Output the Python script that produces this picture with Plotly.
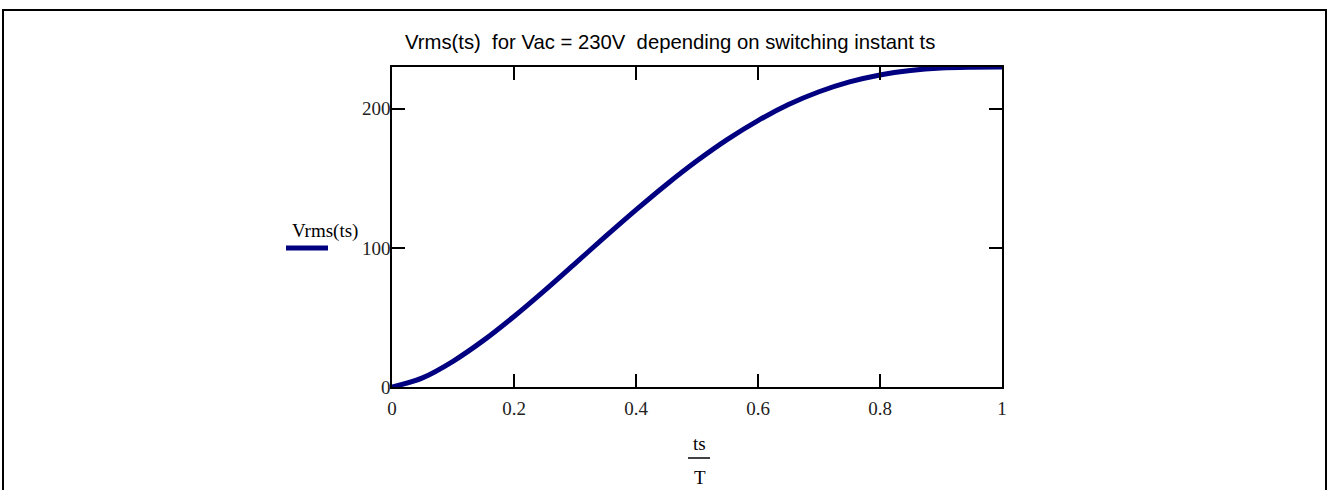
import plotly.graph_objects as go

# ts/T values and Vrms
ts_over_T = [0.0, 0.05, 0.10, 0.15, 0.20, 0.25, 0.30, 0.35, 0.40, 0.45, 0.50,
             0.55, 0.60, 0.65, 0.70, 0.75, 0.80, 0.85, 0.90, 0.95, 1.0]
vrms = [0.0, 6.6, 18.5, 33.5, 50.7, 69.3, 88.7, 108.2, 127.3, 145.6, 162.6,
        178.0, 191.5, 203.0, 212.2, 219.3, 224.3, 227.5, 229.3, 229.9, 230.0]

x_ticks = [0, 0.2, 0.4, 0.6, 0.8, 1]
x_tick_labels = ["0", "0.2", "0.4", "0.6", "0.8", "1"]
y_ticks = [0, 100, 200]
y_tick_labels = ["0", "100", "200"]

title_text = "Vrms(ts)  for Vac = 230V  depending on switching instant ts"
legend_text = "Vrms(ts)"

W, H = 1328, 490
L, R, T, B = 392, 1002, 67, 387

def px(x):
    return (x - L) / (R - L)

def py(y):
    return (B - y) / (B - T)

line_color = "#000080"
serif = "Liberation Serif, Times New Roman, serif"

fig = go.Figure()
fig.add_trace(go.Scatter(x=ts_over_T, y=vrms, mode="lines",
                         line=dict(color=line_color, width=5, shape="spline"),
                         showlegend=False, cliponaxis=True))

axis_common = dict(showline=True, linecolor="black", linewidth=1.5, mirror="ticks",
                   ticks="inside", ticklen=13, tickwidth=1.5, tickcolor="black",
                   showgrid=False, zeroline=False,
                   tickfont=dict(family=serif, size=19, color="#222222"))

fig.update_xaxes(range=[0, 1], tickvals=x_ticks, ticktext=x_tick_labels,
                 ticklabelstandoff=3, **axis_common)
fig.update_yaxes(range=[0, 230], tickvals=y_ticks, ticktext=y_tick_labels,
                 ticklabelstandoff=-4, **axis_common)

fig.update_layout(
    width=W, height=H,
    margin=dict(l=L, r=W - R, t=T, b=H - B, pad=0),
    paper_bgcolor="white", plot_bgcolor="white",
    showlegend=False,
)

annotations = [
    dict(text=title_text, x=px(670), y=py(42), xref="paper", yref="paper",
         showarrow=False, xanchor="center", yanchor="middle",
         font=dict(family="Liberation Sans, Arial, sans-serif", size=20.3, color="black")),
    dict(text=legend_text, x=px(325), y=py(231), xref="paper", yref="paper",
         showarrow=False, xanchor="center", yanchor="middle",
         font=dict(family=serif, size=19, color="black")),
    dict(text="ts", x=px(699), y=py(443), xref="paper", yref="paper",
         showarrow=False, xanchor="center", yanchor="middle",
         font=dict(family=serif, size=19, color="black")),
    dict(text="T", x=px(700), y=py(477), xref="paper", yref="paper",
         showarrow=False, xanchor="center", yanchor="middle",
         font=dict(family=serif, size=19, color="black")),
]
fig.update_layout(annotations=annotations)

shapes = [
    # legend sample line
    dict(type="line", xref="paper", yref="paper", x0=px(286), x1=px(328), y0=py(248), y1=py(248),
         line=dict(color=line_color, width=5)),
    # fraction bar
    dict(type="line", xref="paper", yref="paper", x0=px(688), x1=px(710), y0=py(458), y1=py(458),
         line=dict(color="black", width=1.5)),
    # outer frame
    dict(type="rect", xref="paper", yref="paper", x0=px(3), x1=px(1326), y0=py(10), y1=py(520),
         line=dict(color="black", width=2)),
]
fig.update_layout(shapes=shapes)

fig.write_html("out.html", config={"displayModeBar": False},
               post_script="document.body.style.margin='0';document.body.style.overflow='hidden';")
